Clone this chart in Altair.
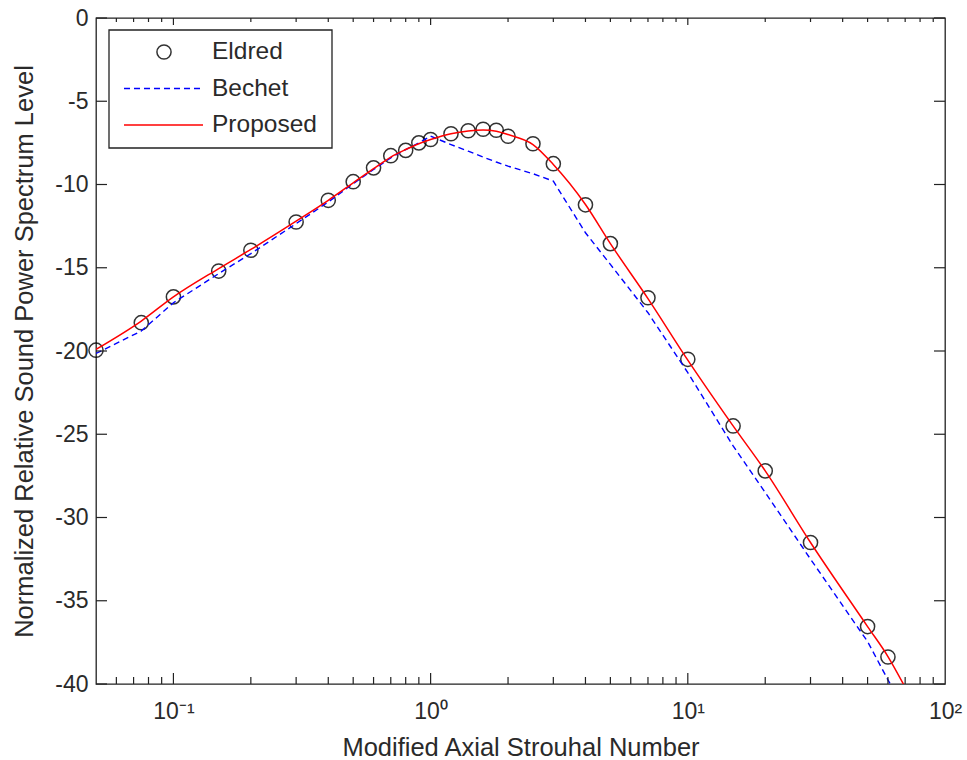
import altair as alt
import pandas as pd

# ---------------- data ----------------
eldred_x = [0.05, 0.075, 0.1, 0.15, 0.2, 0.3, 0.4, 0.5, 0.6, 0.7, 0.8, 0.9, 1.0,
            1.2, 1.4, 1.6, 1.8, 2.0, 2.5, 3.0, 4.0, 5.0, 7.0, 10, 15, 20, 30, 50, 60]
eldred_y = [-19.95, -18.3, -16.75, -15.2, -13.95, -12.25, -10.95, -9.83, -9.0, -8.27,
            -7.95, -7.5, -7.3, -6.95, -6.77, -6.68, -6.74, -7.1, -7.55, -8.75, -11.22,
            -13.55, -16.8, -20.5, -24.5, -27.2, -31.5, -36.55, -38.38]

bechet_x = [0.05, 0.075, 0.1, 0.15, 0.2, 0.3, 0.4, 0.5, 0.6, 0.7, 0.8, 0.9, 1.0,
            1.2, 1.4, 1.6, 1.8, 2.0, 2.5, 3.0, 4.0, 5.0, 7.0, 10, 15, 20, 30, 50, 60, 70]
bechet_y = [-20.15, -18.8, -17.1, -15.35, -14.15, -12.35, -11.05, -9.95, -9.1, -8.4,
            -7.9, -7.5, -7.1, -7.6, -8.0, -8.35, -8.65, -8.9, -9.35, -9.8, -12.9,
            -14.8, -17.7, -21.3, -25.7, -28.5, -32.5, -37.45, -39.75, -41.6]

proposed_x = [0.05, 0.075, 0.1, 0.15, 0.2, 0.3, 0.4, 0.5, 0.6, 0.7, 0.8, 0.9, 1.0,
              1.2, 1.4, 1.6, 1.8, 2.0, 2.5, 3.0, 4.0, 5.0, 7.0, 10, 15, 20, 30, 50, 60, 70]
proposed_y = [-19.9, -18.2, -16.75, -15.05, -13.9, -12.2, -10.95, -9.9, -9.05, -8.35,
              -7.9, -7.55, -7.3, -6.95, -6.78, -6.72, -6.8, -7.0, -7.6, -8.8, -11.2,
              -13.55, -16.85, -20.55, -24.5, -27.2, -31.5, -36.55, -38.35, -40.2]

series_names = ["Eldred", "Bechet", "Proposed"]
series_colors = ["#000000", "#0000ff", "#ff0000"]

x_major_ticks = [0.1, 1, 10]
x_minor_ticks = [0.06, 0.07, 0.08, 0.09,
                 0.2, 0.3, 0.4, 0.5, 0.6, 0.7, 0.8, 0.9,
                 2, 3, 4, 5, 6, 7, 8, 9,
                 20, 30, 40, 50, 60, 70, 80, 90]
x_label_values = [0.1, 1, 10, 100]
y_tick_values = [-40, -35, -30, -25, -20, -15, -10, -5, 0]

# ---------------- layout / style ----------------
W, H = 849, 666
FONT = "Liberation Sans"
TXT = "#2a2a2a"
FRAME = "#222222"

eldred = pd.DataFrame({"x": eldred_x, "y": eldred_y, "series": "Eldred"})
bechet = pd.DataFrame({"x": bechet_x, "y": bechet_y, "series": "Bechet"})
proposed = pd.DataFrame({"x": proposed_x, "y": proposed_y, "series": "Proposed"})
xmaj = pd.DataFrame({"v": x_major_ticks})
xmin = pd.DataFrame({"v": x_minor_ticks})
yt = pd.DataFrame({"v": y_tick_values})
one = pd.DataFrame({"a": [0]})
legend_df = pd.DataFrame({"series": series_names})

xscale = alt.Scale(type="log", domain=[0.05, 100], nice=False)
yscale = alt.Scale(domain=[-40, 0], nice=False, zero=False)
color_scale = alt.Scale(domain=series_names, range=series_colors)

x_axis = alt.Axis(
    values=x_label_values,
    labelExpr="datum.value == 0.1 ? '10⁻¹' : datum.value == 1 ? '10⁰' : datum.value == 10 ? '10¹' : '10²'",
    title="Modified Axial Strouhal Number",
    grid=False, domain=False, ticks=False,
    labelPadding=16, labelFont=FONT, labelFontSize=23, labelColor=TXT,
    labelOverlap=False, labelFlush=False,
    titleFont=FONT, titleFontSize=25.5, titleFontWeight="normal", titleColor=TXT,
    titlePadding=12,
)
y_axis = alt.Axis(
    values=y_tick_values,
    labelExpr="'' + datum.value",
    title="Normalized Relative Sound Power Spectrum Level",
    grid=False, domain=False, ticks=False,
    labelPadding=8, labelFont=FONT, labelFontSize=23, labelColor=TXT,
    labelOverlap=False, labelFlush=False,
    titleFont=FONT, titleFontSize=25.5, titleFontWeight="normal", titleColor=TXT,
    titlePadding=17,
)


def X(field):
    return alt.X(field, scale=xscale, axis=x_axis)


def Y(field):
    return alt.Y(field, scale=yscale, axis=y_axis)


points = alt.Chart(eldred).mark_point(
    shape="circle", filled=False, size=200, strokeWidth=1.5, opacity=0.8
).encode(
    x=X("x:Q"), y=Y("y:Q"),
    color=alt.Color("series:N", scale=color_scale, legend=None),
)

bechet_line = alt.Chart(bechet).mark_line(
    strokeWidth=1.4, strokeDash=[6, 4], clip=True
).encode(
    x=X("x:Q"), y=Y("y:Q"),
    color=alt.Color("series:N", scale=color_scale, legend=None),
)

proposed_line = alt.Chart(proposed).mark_line(
    strokeWidth=1.5, clip=True, interpolate="monotone"
).encode(
    x=X("x:Q"), y=Y("y:Q"),
    color=alt.Color("series:N", scale=color_scale, legend=None),
)

# ---- inward ticks on all four sides (MATLAB box style) ----
tick_style = dict(color=FRAME, strokeWidth=1.2)
bottom_major = alt.Chart(xmaj).mark_rule(**tick_style).encode(
    x=X("v:Q"), y=alt.value(H), y2=alt.value(H - 11))
bottom_minor = alt.Chart(xmin).mark_rule(**tick_style).encode(
    x=X("v:Q"), y=alt.value(H), y2=alt.value(H - 7))
top_major = alt.Chart(xmaj).mark_rule(**tick_style).encode(
    x=X("v:Q"), y=alt.value(0), y2=alt.value(7))
top_minor = alt.Chart(xmin).mark_rule(**tick_style).encode(
    x=X("v:Q"), y=alt.value(0), y2=alt.value(4))
left_ticks = alt.Chart(yt).mark_rule(**tick_style).encode(
    y=Y("v:Q"), x=alt.value(0), x2=alt.value(11))
right_ticks = alt.Chart(yt).mark_rule(**tick_style).encode(
    y=Y("v:Q"), x=alt.value(W), x2=alt.value(W - 11))

# ---- legend box (drawn by hand, MATLAB style) ----
LX0, LX1, LY0, LY1 = 13, 236, 12, 130
ROW0, ROWSTEP = 34, 36.5
legend_box = alt.Chart(one).mark_rect(
    fill="white", stroke=FRAME, strokeWidth=1.3
).encode(x=alt.value(LX0), x2=alt.value(LX1), y=alt.value(LY0), y2=alt.value(LY1))

legend_text = alt.Chart(legend_df).transform_window(
    idx="row_number()"
).transform_calculate(
    ly=f"{ROW0} + (datum.idx - 1) * {ROWSTEP}"
).mark_text(
    align="left", baseline="middle", font=FONT, fontSize=24.5, color=TXT
).encode(
    x=alt.value(116), y=alt.Y("ly:Q", scale=None), text="series:N"
)
legend_circle = alt.Chart(legend_df).transform_filter(
    "datum.series == 'Eldred'"
).mark_point(
    shape="circle", filled=False, size=200, strokeWidth=1.5, opacity=0.8
).encode(
    x=alt.value(68), y=alt.value(ROW0),
    color=alt.Color("series:N", scale=color_scale, legend=None),
)
legend_bechet = alt.Chart(legend_df).transform_filter(
    "datum.series == 'Bechet'"
).mark_rule(strokeWidth=1.4, strokeDash=[6, 4]).encode(
    x=alt.value(28), x2=alt.value(107), y=alt.value(ROW0 + ROWSTEP),
    color=alt.Color("series:N", scale=color_scale, legend=None),
)
legend_prop = alt.Chart(legend_df).transform_filter(
    "datum.series == 'Proposed'"
).mark_rule(strokeWidth=1.5).encode(
    x=alt.value(28), x2=alt.value(107), y=alt.value(ROW0 + 2 * ROWSTEP),
    color=alt.Color("series:N", scale=color_scale, legend=None),
)

chart = alt.layer(
    points, bechet_line, proposed_line,
    bottom_major, bottom_minor, top_major, top_minor, left_ticks, right_ticks,
    legend_box, legend_text, legend_circle, legend_bechet, legend_prop,
).properties(
    width=W, height=H,
    autosize=alt.AutoSizeParams(type="none"),
    padding={"left": 96, "top": 18, "right": 967 - 96 - W, "bottom": 760 - 18 - H},
    background="white",
).configure_view(
    stroke=FRAME, strokeWidth=1.3
)

chart.save("out.html", embed_options={"renderer": "svg", "actions": False})
